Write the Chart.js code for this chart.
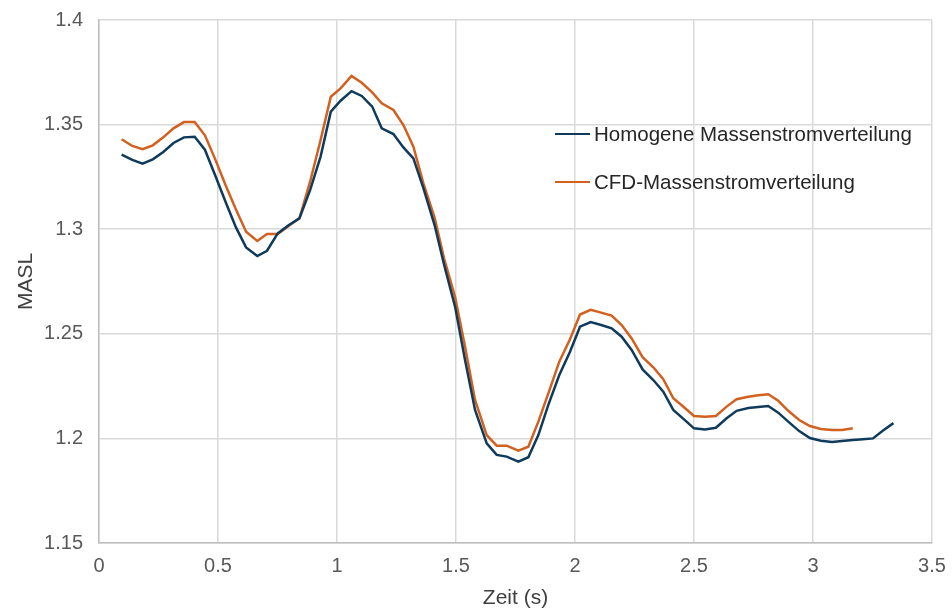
<!DOCTYPE html>
<html>
<head>
<meta charset="utf-8">
<script src="https://cdn.jsdelivr.net/npm/chart.js@4.4.1/dist/chart.umd.min.js"></script>
<style>
  html, body { margin: 0; padding: 0; background: #ffffff; }
  #wrap { position: relative; width: 952px; height: 613px; }
  #chart { position: absolute; left: 0; top: 0; }
  .legend { position: absolute; left: 555px; font-family: "Liberation Sans", Arial, sans-serif;
            font-size: 20.5px; color: #262626; white-space: nowrap; }
  .legend .item { position: absolute; left: 0; display: flex; align-items: center; height: 24px; }
  .legend .swatch { width: 35px; height: 0; border-top: 2.5px solid; margin-right: 4px; }
</style>
</head>
<body>
<div id="wrap">
  <canvas id="chart" width="952" height="613"></canvas>
  <div class="legend" id="legend"></div>
</div>
<script>
// Zeitachse (s) und MASL-Verläufe
const timeS = [
  0.095, 0.140, 0.183, 0.226, 0.270, 0.313, 0.357, 0.402, 0.445, 0.488,
  0.532, 0.575, 0.618, 0.665, 0.706, 0.751, 0.798, 0.842, 0.887, 0.931,
  0.974, 1.015, 1.061, 1.104, 1.148, 1.188, 1.237, 1.279, 1.321, 1.363,
  1.410, 1.450, 1.496, 1.538, 1.580, 1.629, 1.671, 1.713, 1.762, 1.804,
  1.846, 1.888, 1.934, 1.979, 2.021, 2.066, 2.110, 2.154, 2.196, 2.238,
  2.284, 2.329, 2.371, 2.413, 2.458, 2.500, 2.546, 2.592, 2.637, 2.679,
  2.728, 2.770, 2.812, 2.854, 2.896, 2.942, 2.987, 3.033, 3.080, 3.122,
  3.167, 3.210, 3.252, 3.293, 3.338
];

const homogen = [
  1.3356, 1.3331, 1.3313, 1.3334, 1.3369, 1.3412, 1.3439, 1.3442, 1.3380, 1.3258,
  1.3130, 1.3010, 1.2913, 1.2872, 1.2897, 1.2980, 1.3020, 1.3052, 1.3187, 1.3347,
  1.3562, 1.3614, 1.3660, 1.3637, 1.3586, 1.3482, 1.3455, 1.3391, 1.3339, 1.3196,
  1.3020, 1.2830, 1.2630, 1.2375, 1.2136, 1.1976, 1.1921, 1.1913, 1.1889, 1.1910,
  1.2016, 1.2160, 1.2303, 1.2414, 1.2534, 1.2556, 1.2542, 1.2526, 1.2486, 1.2423,
  1.2330, 1.2279, 1.2223, 1.2136, 1.2091, 1.2048, 1.2043, 1.2051, 1.2096, 1.2132,
  1.2145, 1.2150, 1.2155, 1.2123, 1.2080, 1.2035, 1.2002, 1.1989, 1.1983, 1.1988,
  1.1992, 1.1996, 1.2000, 1.2037, 1.2073
];

const cfd = [
  1.3430, 1.3398, 1.3382, 1.3401, 1.3439, 1.3482, 1.3512, 1.3512, 1.3449, 1.3335,
  1.3210, 1.3095, 1.2988, 1.2944, 1.2977, 1.2977, 1.3017, 1.3052, 1.3227, 1.3426,
  1.3633, 1.3673, 1.3733, 1.3700, 1.3654, 1.3602, 1.3570, 1.3498, 1.3394, 1.3219,
  1.3056, 1.2860, 1.2677, 1.2438, 1.2184, 1.2016, 1.1965, 1.1965, 1.1941, 1.1960,
  1.2080, 1.2215, 1.2367, 1.2474, 1.2592, 1.2615, 1.2601, 1.2587, 1.2542, 1.2478,
  1.2388, 1.2340, 1.2283, 1.2192, 1.2149, 1.2107, 1.2104, 1.2107, 1.2152, 1.2187,
  1.2199, 1.2206, 1.2211, 1.2180, 1.2132, 1.2088, 1.2059, 1.2045, 1.2040, 1.2040,
  1.2048
];

const seriesNames = ['Homogene Massenstromverteilung', 'CFD-Massenstromverteilung'];
const seriesColors = ['#0E3B5C', '#D2601F'];

const toPoints = (vals) => vals.map((v, i) => ({ x: timeS[i], y: v }));

const fontFamily = '"Liberation Sans", Arial, sans-serif';
const gridColor = '#D9D9D9';
// Zahlen ohne überflüssige Nullen (1.4 statt 1.40)
const plainNumber = (v) => String(parseFloat(Number(v).toFixed(4)));

new Chart(document.getElementById('chart'), {
  type: 'line',
  data: {
    datasets: [
      { label: seriesNames[0], data: toPoints(homogen), borderColor: seriesColors[0],
        borderWidth: 2.5, pointRadius: 0, tension: 0, fill: false },
      { label: seriesNames[1], data: toPoints(cfd), borderColor: seriesColors[1],
        borderWidth: 2.5, pointRadius: 0, tension: 0, fill: false }
    ]
  },
  options: {
    responsive: false,
    animation: false,
    layout: { padding: { left: 0, right: 20, top: 20, bottom: 0 } },
    plugins: { legend: { display: false }, tooltip: { enabled: false } },
    scales: {
      x: {
        type: 'linear', min: 0, max: 3.5,
        afterFit: (s) => { s.height = 70; s.paddingLeft = 0; s.paddingRight = 0; },
        ticks: { stepSize: 0.5, padding: 11, color: '#595959', callback: plainNumber,
                 font: { family: fontFamily, size: 20 }, maxRotation: 0 },
        grid: { color: gridColor, lineWidth: 1.5, drawTicks: false },
        border: { color: '#BFBFBF', width: 1.5 },
        title: { display: true, text: 'Zeit (s)', color: '#404040',
                 font: { family: fontFamily, size: 21 }, padding: { top: 2, bottom: 2 } }
      },
      y: {
        min: 1.15, max: 1.4,
        afterFit: (s) => { s.width = 99; s.paddingTop = 0; s.paddingBottom = 0; },
        ticks: { stepSize: 0.05, padding: 16, color: '#595959', callback: plainNumber,
                 font: { family: fontFamily, size: 20 } },
        grid: { color: gridColor, lineWidth: 1.5, drawTicks: false },
        border: { color: '#BFBFBF', width: 1.5 },
        title: { display: true, text: 'MASL', color: '#404040',
                 font: { family: fontFamily, size: 21 }, padding: { top: 14, bottom: 0 } }
      }
    }
  }
});

// Legende innerhalb der Zeichenfläche
const legendEl = document.getElementById('legend');
const legendTops = [122, 170];
seriesNames.forEach((name, i) => {
  const item = document.createElement('div');
  item.className = 'item';
  item.style.top = legendTops[i] + 'px';
  const sw = document.createElement('span');
  sw.className = 'swatch';
  sw.style.borderTopColor = seriesColors[i];
  const tx = document.createElement('span');
  tx.textContent = name;
  item.appendChild(sw);
  item.appendChild(tx);
  legendEl.appendChild(item);
});
</script>
</body>
</html>
